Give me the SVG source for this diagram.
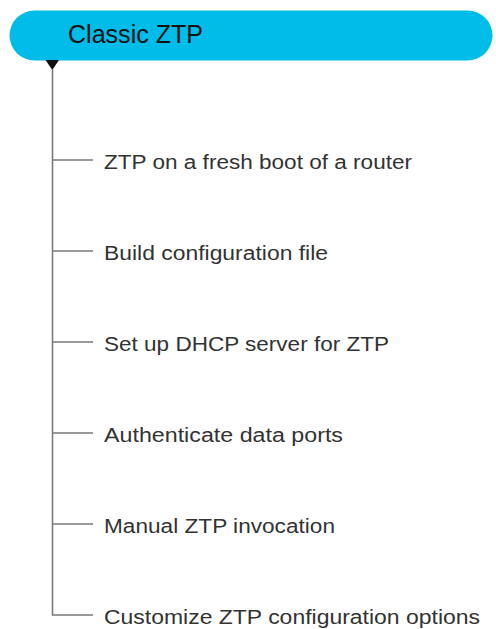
<svg xmlns="http://www.w3.org/2000/svg" width="496" height="629" viewBox="0 0 496 629">
<style>
.item{font-family:"Liberation Sans",Arial,sans-serif;font-size:20px;fill:#333}
.title{font-family:"Liberation Sans",Arial,sans-serif;font-size:25px;fill:#111}
.ln{stroke:#7a7a7a;stroke-width:1.6;fill:none}
</style>
<rect width="496" height="629" fill="#fff"/>
<g id="header">
<rect x="9.5" y="10.5" width="483" height="50" rx="25" fill="#00bce8"/>
<text class="title" x="68" y="43" textLength="135" lengthAdjust="spacingAndGlyphs">Classic ZTP</text>
<polygon points="45.5,60 59,60 52.3,70" fill="#111"/>
</g>
<g id="connectors">
<path class="ln" d="M52.5,69 V615 H93"/>
<path class="ln" d="M52.5,160 H93 M52.5,251 H93 M52.5,342 H93 M52.5,433 H93 M52.5,524 H93"/>
</g>
<g id="n1"><text class="item" x="104" y="169" textLength="308" lengthAdjust="spacingAndGlyphs">ZTP on a fresh boot of a router</text></g>
<g id="n2"><text class="item" x="104" y="260" textLength="224" lengthAdjust="spacingAndGlyphs">Build configuration file</text></g>
<g id="n3"><text class="item" x="104" y="351" textLength="285" lengthAdjust="spacingAndGlyphs">Set up DHCP server for ZTP</text></g>
<g id="n4"><text class="item" x="104" y="442" textLength="239" lengthAdjust="spacingAndGlyphs">Authenticate data ports</text></g>
<g id="n5"><text class="item" x="104" y="533" textLength="231" lengthAdjust="spacingAndGlyphs">Manual ZTP invocation</text></g>
<g id="n6"><text class="item" x="104" y="624" textLength="376" lengthAdjust="spacingAndGlyphs">Customize ZTP configuration options</text></g>
</svg>
